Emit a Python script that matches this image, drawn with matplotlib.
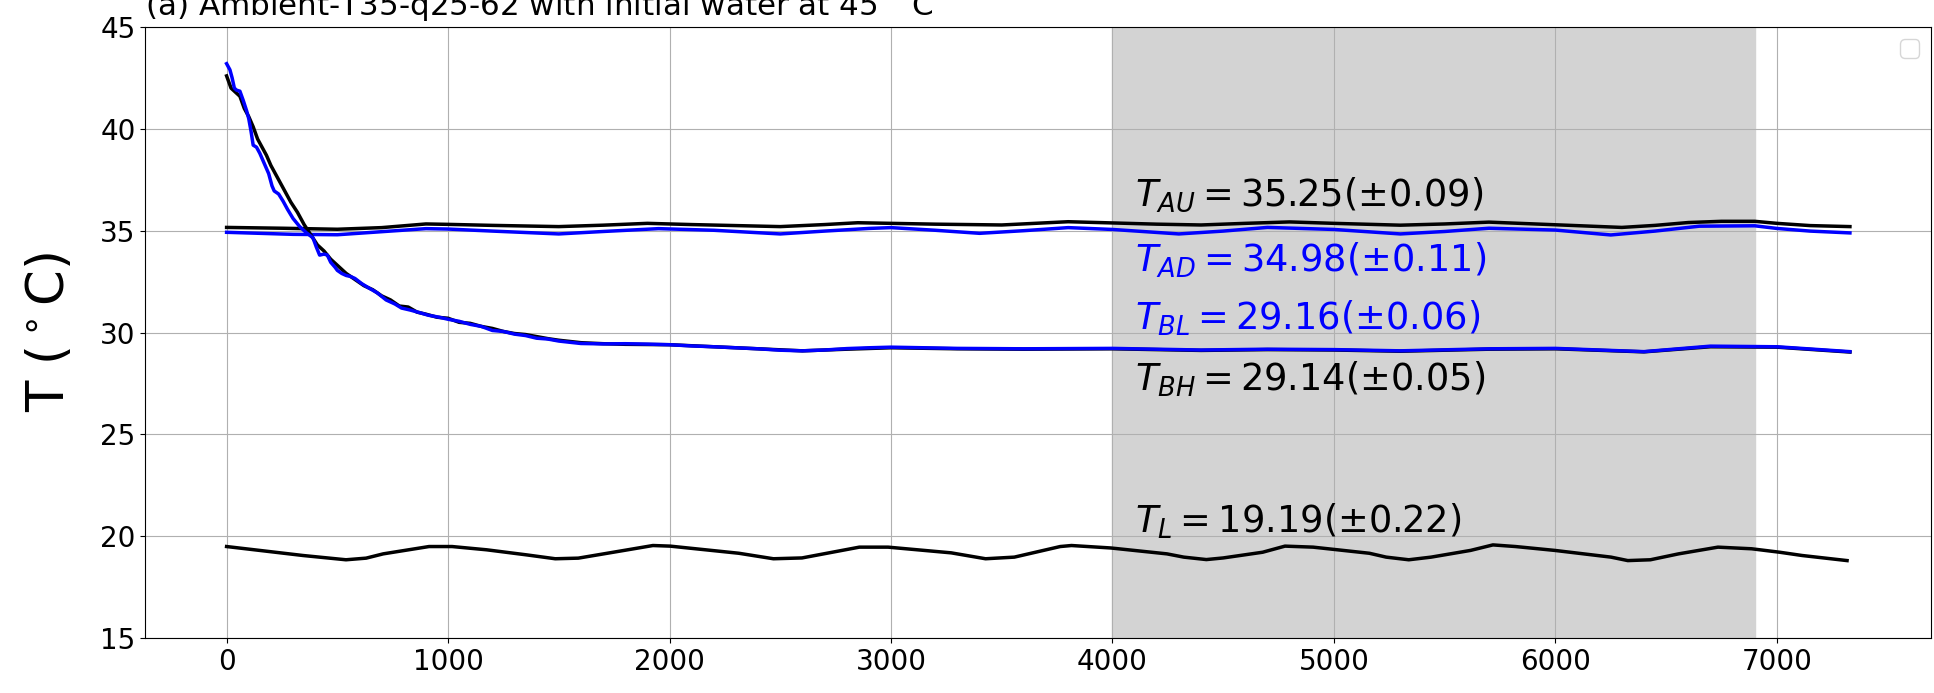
import matplotlib
matplotlib.use("Agg")
import matplotlib.pyplot as plt

# ---- data ----
t_au = [0, 250, 500, 700, 900, 1000, 1200, 1500, 1700, 1900, 2100, 2500, 2700, 2850, 3000,
        3200, 3500, 3650, 3800, 4000, 4200, 4400, 4600, 4800, 5000, 5300, 5500, 5700, 6000,
        6300, 6450, 6600, 6750, 6900, 7000, 7150, 7330]
v_au = [35.16, 35.12, 35.07, 35.15, 35.33, 35.31, 35.26, 35.2, 35.27, 35.36, 35.3, 35.2, 35.3, 35.39, 35.36,
        35.32, 35.28, 35.36, 35.44, 35.38, 35.32, 35.28, 35.36, 35.43, 35.36, 35.27, 35.33, 35.42, 35.29,
        35.16, 35.26, 35.4, 35.46, 35.46, 35.36, 35.25, 35.2]

t_ad = [0, 300, 500, 700, 900, 1000, 1200, 1500, 1700, 1950, 2200, 2500, 2700, 2900, 3000,
        3200, 3400, 3600, 3800, 4000, 4300, 4500, 4700, 5000, 5300, 5500, 5700, 6000,
        6250, 6450, 6650, 6900, 7000, 7150, 7330]
v_ad = [34.92, 34.82, 34.8, 34.95, 35.1, 35.08, 34.98, 34.84, 34.96, 35.1, 35.02, 34.84, 34.98, 35.11, 35.15,
        35.02, 34.87, 35.0, 35.15, 35.06, 34.84, 34.98, 35.16, 35.06, 34.84, 34.96, 35.12, 35.03,
        34.79, 34.98, 35.22, 35.24, 35.11, 34.98, 34.89]

t_bl = [0, 15, 25, 35, 45, 60, 75, 90, 100, 110, 120, 135, 150, 170, 190, 205, 215, 235, 255,
        275, 300, 330, 360, 390, 405, 420, 440, 455, 470, 490, 500, 520, 540, 560, 580, 610, 640,
        680, 720, 760, 790, 830, 870, 910, 960, 1000, 1050, 1100, 1150, 1200, 1250, 1300, 1350,
        1400, 1450, 1500, 1550, 1600, 1700, 1800, 1900, 2000, 2100, 2200, 2300, 2400, 2500, 2600,
        2700, 2800, 2900, 3000, 3300, 3600, 4000, 4400, 4700, 5000, 5300, 5700, 6000, 6400, 6700,
        7000, 7330]
v_bl = [43.2, 42.9, 42.5, 42.0, 41.9, 41.85, 41.4, 40.9, 40.5, 39.9, 39.2, 39.1, 38.8, 38.3,
        37.8, 37.2, 36.95, 36.8, 36.45, 36.05, 35.6, 35.2, 34.9, 34.65, 34.2, 33.8, 33.85, 33.8,
        33.45, 33.2, 33.05, 32.9, 32.8, 32.75, 32.65, 32.4, 32.2, 31.95, 31.6, 31.4, 31.2, 31.1,
        30.98, 30.85, 30.75, 30.65, 30.55, 30.4, 30.3, 30.1, 30.05, 29.92, 29.85, 29.72, 29.68,
        29.58, 29.52, 29.46, 29.44, 29.45, 29.43, 29.4, 29.34, 29.3, 29.25, 29.2, 29.13, 29.1,
        29.14, 29.21, 29.25, 29.28, 29.22, 29.2, 29.22, 29.14, 29.18, 29.16, 29.1, 29.2, 29.22,
        29.06, 29.33, 29.3, 29.06]

t_bh = [0, 20, 40, 60, 80, 100, 120, 140, 160, 180, 200, 230, 260, 290, 320, 350, 380, 410,
        440, 470, 500, 540, 580, 620, 660, 700, 740, 780, 820, 860, 900, 950, 1000, 1050, 1100,
        1150, 1200, 1250, 1300, 1350, 1400, 1450, 1500, 1600, 1700, 1800, 2000, 2200, 2400,
        2600, 2800, 3000, 3300, 3600, 4000, 4400, 4700, 5000, 5300, 5700, 6000, 6400, 6700,
        7000, 7330]
v_bh = [42.6, 42.0, 41.8, 41.6, 41.0, 40.6, 40.1, 39.5, 39.1, 38.7, 38.2, 37.6, 37.0, 36.4,
        35.9, 35.3, 34.8, 34.3, 34.0, 33.6, 33.3, 32.9, 32.6, 32.3, 32.1, 31.8, 31.6, 31.3, 31.25,
        31.0, 30.9, 30.75, 30.7, 30.5, 30.45, 30.3, 30.2, 30.05, 29.95, 29.9, 29.8, 29.7, 29.62,
        29.5, 29.45, 29.42, 29.4, 29.3, 29.2, 29.1, 29.18, 29.25, 29.2, 29.18, 29.2, 29.12,
        29.16, 29.14, 29.08, 29.18, 29.2, 29.05, 29.3, 29.28, 29.04]

t_l = [0, 345, 539, 630, 707, 914, 1018, 1174, 1355, 1484, 1588, 1795, 1925, 2003, 2313, 2469,
       2598, 2857, 2987, 3272, 3427, 3557, 3764, 3815, 3992, 4246, 4322, 4424, 4500, 4678, 4779,
       4906, 5160, 5236, 5338, 5439, 5617, 5718, 5820, 5997, 6251, 6327, 6429, 6556, 6734, 6886,
       7013, 7114, 7317]
v_l = [19.49, 19.05, 18.84, 18.92, 19.13, 19.49, 19.49, 19.33, 19.08, 18.89, 18.92, 19.3, 19.54,
       19.51, 19.16, 18.89, 18.93, 19.46, 19.46, 19.18, 18.89, 18.97, 19.49, 19.54, 19.42, 19.13,
       18.97, 18.85, 18.93, 19.21, 19.51, 19.46, 19.16, 18.97, 18.84, 18.97, 19.3, 19.57, 19.49,
       19.3, 18.97, 18.8, 18.84, 19.13, 19.46, 19.38, 19.21, 19.05, 18.8]

labels = [r"$T_{AU}=35.25(\pm0.09)$", r"$T_{AD}=34.98(\pm0.11)$", r"$T_{BL}=29.16(\pm0.06)$",
          r"$T_{BH}=29.14(\pm0.05)$", r"$T_{L}=19.19(\pm0.22)$"]
label_y = [36.25, 32.98, 30.16, 27.14, 20.19]
label_colors = ["black", "blue", "blue", "black", "black"]
span = (4000, 6900)

fig = plt.figure(figsize=(19.34, 6.93), dpi=100)
ax = fig.add_axes([0.0752, 0.0794, 0.9233, 0.8816])

ax.axvspan(span[0], span[1], color="lightgray", zorder=0)
ax.plot(t_au, v_au, color="black", lw=2.5)
ax.plot(t_ad, v_ad, color="blue", lw=2.5)
ax.plot(t_bh, v_bh, color="black", lw=2.5)
ax.plot(t_bl, v_bl, color="blue", lw=2.5)
ax.plot(t_l, v_l, color="black", lw=2.5)

for s, yy, c in zip(labels, label_y, label_colors):
    ax.text(4100, yy, s, color=c, fontsize=26.5)

ax.set_ylim(15, 45)
ax.set_yticks([15, 20, 25, 30, 35, 40, 45])
ax.set_xticks([0, 1000, 2000, 3000, 4000, 5000, 6000, 7000])
ax.tick_params(labelsize=20)
ax.grid(True)
ax.set_ylabel(r"T ($^\circ$C)", fontsize=37, labelpad=18)
ax.set_title(r"(a) Ambient-T35-q25-62 with initial water at 45 $^\circ$C", loc="left",
             fontsize=22.3, pad=9)
ax.legend(fontsize=17)

fig.savefig("out.png", dpi=100)
